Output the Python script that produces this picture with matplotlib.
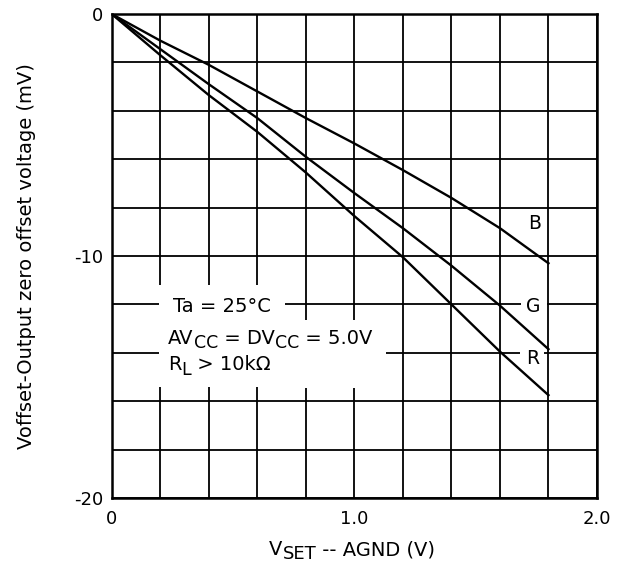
import matplotlib
matplotlib.use('Agg')
import matplotlib.pyplot as plt
import numpy as np
from matplotlib.patches import Rectangle

plt.rcParams['font.family'] = ['DejaVu Sans']

# 数据
v_set = [0, 0.2, 0.4, 0.6, 0.8, 1.0, 1.2, 1.4, 1.6, 1.8]
offset_b = [0, -1.1, -2.1, -3.2, -4.3, -5.35, -6.45, -7.6, -8.85, -10.3]
offset_g = [0, -1.45, -2.9, -4.3, -5.9, -7.4, -8.85, -10.4, -12.05, -13.85]
offset_r = [0, -1.7, -3.35, -4.87, -6.55, -8.35, -10.05, -12.0, -13.95, -15.75]

x_ticks = [0, 0.2, 0.4, 0.6, 0.8, 1.0, 1.2, 1.4, 1.6, 1.8, 2.0]
x_ticklabels = ['0', '', '', '', '', '1.0', '', '', '', '', '2.0']
y_ticks = [0, -2, -4, -6, -8, -10, -12, -14, -16, -18, -20]
y_ticklabels = ['0', '', '', '', '', '-10', '', '', '', '', '-20']

W, H = 630, 569
fig = plt.figure(figsize=(W / 100, H / 100), dpi=100)
left, right, top, bottom = 111.7, 597, 14, 498
ax = fig.add_axes([left / W, 1 - bottom / H, (right - left) / W, (bottom - top) / H])

ax.set_xlim(0, 2.0)
ax.set_ylim(-20, 0)
ax.set_xticks(x_ticks)
ax.set_xticklabels(x_ticklabels)
ax.set_yticks(y_ticks)
ax.set_yticklabels(y_ticklabels)
ax.tick_params(length=0, labelsize=13)
ax.tick_params(axis='x', pad=9)
ax.tick_params(axis='y', pad=6)
ax.set_axisbelow(True)
ax.grid(True, color='black', linewidth=1.3)
for sp in ax.spines.values():
    sp.set_linewidth(1.8)

# 曲线
for ys in (offset_b, offset_g, offset_r):
    ax.plot(v_set, ys, color='black', linewidth=1.7, zorder=4)

# 文字区域遮住网格
ax.add_patch(Rectangle((0.196, -15.4), 0.52, 4.2, fc='white', ec='none', zorder=2.5))
ax.add_patch(Rectangle((0.716, -15.45), 0.415, 2.8, fc='white', ec='none', zorder=2.5))


def chain_text(x, y, parts, transform):
    # parts: (文字, 基线偏移pt, 字号)
    s0, dy0, size0 = parts[0]
    prev = ax.text(x, y, s0, transform=transform, fontsize=size0,
                   va='baseline', ha='left', zorder=5, clip_on=False)
    prev_dy = dy0
    for s, dy, size in parts[1:]:
        prev = ax.annotate(s, xy=(1, 0), xycoords=prev, xytext=(0, dy - prev_dy),
                           textcoords='offset points', fontsize=size,
                           va='bottom', ha='left', zorder=5, annotation_clip=False)
        prev_dy = dy
    return prev


ax.text(0.254, -12.31, 'Ta = 25\u00b0C', fontsize=14, va='baseline', ha='left', zorder=5)
chain_text(0.233, -13.62, [('AV', 0, 14), ('CC', -3.5, 12.5), (' = DV', 0, 14),
                           ('CC', -3.5, 12.5), (' = 5.0V', 0, 14)], ax.transData)
chain_text(0.233, -14.71, [('R', 0, 14), ('L', -3.5, 12.5), (' > 10k\u03a9', 0, 14)], ax.transData)

# 曲线标签
ax.text(1.742, -8.65, 'B', fontsize=13.5, ha='center', va='center', zorder=3)
ax.text(1.739, -12.1, 'G', fontsize=13.5, ha='center', va='center', zorder=3,
        bbox=dict(boxstyle='square,pad=0.3', fc='white', ec='none'))
ax.text(1.733, -14.25, 'R', fontsize=13.5, ha='center', va='center', zorder=3,
        bbox=dict(boxstyle='square,pad=0.3', fc='white', ec='none'))

# 坐标轴标题
ax.set_ylabel('Voffset-Output zero offset voltage (mV)', fontsize=14)
ax.yaxis.set_label_coords(-0.155, 0.5)
chain_text(269 / W, (H - 555) / H, [('V', 0, 14), ('SET', -3, 13), (' -- AGND (V)', 0, 14)],
           fig.transFigure)

plt.savefig('out.png', dpi=100)
plt.close()
